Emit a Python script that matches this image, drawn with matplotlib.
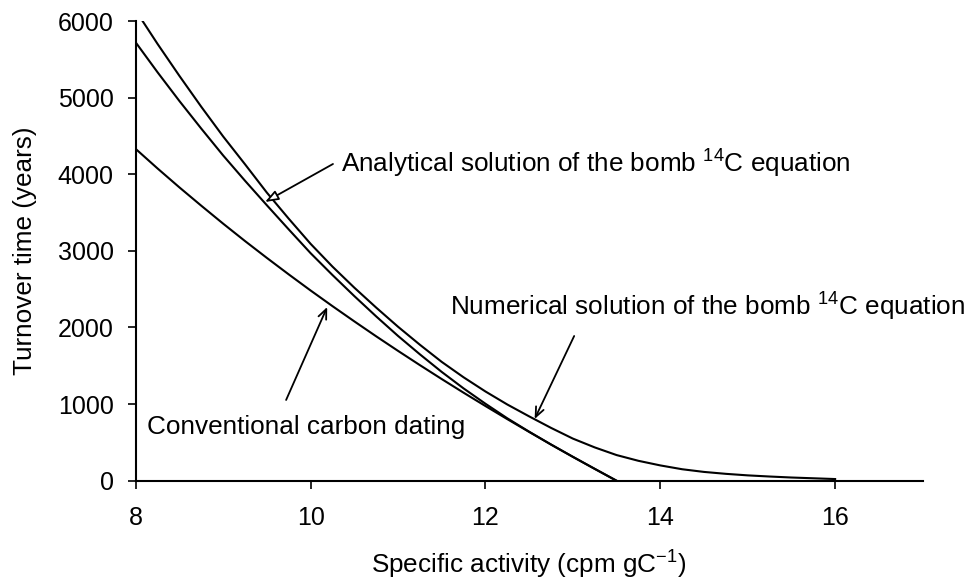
import matplotlib
matplotlib.use("Agg")
import matplotlib.pyplot as plt

plt.rcParams['font.family'] = ['Liberation Sans', 'DejaVu Sans']
plt.rcParams['mathtext.default'] = 'regular'

# Specific activity (cpm gC-1)
x_num = [8.00, 8.25, 8.50, 8.75, 9.00, 9.25, 9.50, 9.75, 10.00, 10.25, 10.50, 10.75,
         11.00, 11.25, 11.50, 11.75, 12.00, 12.25, 12.50, 12.75, 13.00, 13.25, 13.50,
         13.75, 14.00, 14.25, 14.50, 14.75, 15.00, 15.25, 15.50, 15.75, 16.00]
# Numerical solution of the bomb 14C equation (years)
y_num = [6136, 5700, 5283, 4880, 4493, 4130, 3760, 3420, 3092, 2795, 2520, 2260,
         2010, 1775, 1551, 1350, 1165, 995, 840, 690, 550, 435, 335,
         260, 200, 150, 115, 90, 70, 55, 42, 32, 22]

x_ana = [8.00, 8.25, 8.50, 8.75, 9.00, 9.25, 9.50, 9.75, 10.00, 10.25, 10.50, 10.75,
         11.00, 11.25, 11.50, 11.75, 12.00, 12.25, 12.50, 12.75, 13.00, 13.25, 13.50]
# Analytical solution of the bomb 14C equation (years)
y_ana = [5720, 5330, 4955, 4595, 4245, 3915, 3595, 3280, 2970, 2685, 2410, 2145,
         1890, 1650, 1420, 1205, 1005, 815, 640, 472, 312, 155, 0]

x_conv = x_ana
# Conventional carbon dating (years)
y_conv = [4330, 4075, 3828, 3589, 3355, 3128, 2908, 2693, 2483, 2279, 2080, 1885,
          1695, 1509, 1327, 1149, 975, 804, 637, 473, 312, 155, 0]

xticks = [8, 10, 12, 14, 16]
yticks = [0, 1000, 2000, 3000, 4000, 5000, 6000]

fig = plt.figure(figsize=(9.71, 5.82), dpi=100)
ax = fig.add_axes([0.1398, 0.174, 0.8103, 0.7899])

lw = 1.5
ax.plot(x_num, y_num, color='black', lw=lw)
ax.plot(x_ana, y_ana, color='black', lw=lw)
ax.plot(x_conv, y_conv, color='black', lw=lw)

ax.set_xlim(8, 17)
ax.set_ylim(0, 6000)
ax.set_xticks(xticks)
ax.set_yticks(yticks)
ax.tick_params(axis='both', direction='out', length=6, width=1.2, labelsize=18,
               color='black')
ax.tick_params(axis='x', pad=12)
ax.tick_params(axis='y', pad=10)
for s in ['top', 'right']:
    ax.spines[s].set_visible(False)
for s in ['left', 'bottom']:
    ax.spines[s].set_linewidth(1.5)

fs = 18.8
# Annotations
ax.text(10.346, 4021, 'Analytical solution of the bomb $^{14}$C equation',
        fontsize=fs, ha='left', va='baseline')
ax.annotate('', xy=(9.479, 3638), xytext=(10.256, 4134),
            arrowprops=dict(arrowstyle='-|>,head_length=0.8,head_width=0.3',
                            facecolor='white', edgecolor='black', lw=1.3,
                            mutation_scale=10, shrinkA=0, shrinkB=0))

ax.text(11.59, 2150, 'Numerical solution of the bomb $^{14}$C equation',
        fontsize=fs, ha='left', va='baseline')
ax.annotate('', xy=(12.563, 806), xytext=(13.015, 1889),
            arrowprops=dict(arrowstyle='->,head_length=0.7,head_width=0.3',
                            color='black', lw=1.3, mutation_scale=10,
                            shrinkA=0, shrinkB=0))

ax.text(8.129, 606, 'Conventional carbon dating', fontsize=fs,
        ha='left', va='baseline')
ax.annotate('', xy=(10.19, 2267), xytext=(9.72, 1054),
            arrowprops=dict(arrowstyle='->,head_length=0.7,head_width=0.3',
                            color='black', lw=1.3, mutation_scale=10,
                            shrinkA=0, shrinkB=0))

fig.text(25 / 971, 1 - 251 / 582, 'Turnover time (years)', rotation=90,
         ha='center', va='center', fontsize=fs)
fig.text(529 / 971, 1 - 574 / 582, 'Specific activity (cpm gC$^{-1}$)',
         ha='center', va='baseline', fontsize=fs)

fig.savefig('out.png', dpi=100)
